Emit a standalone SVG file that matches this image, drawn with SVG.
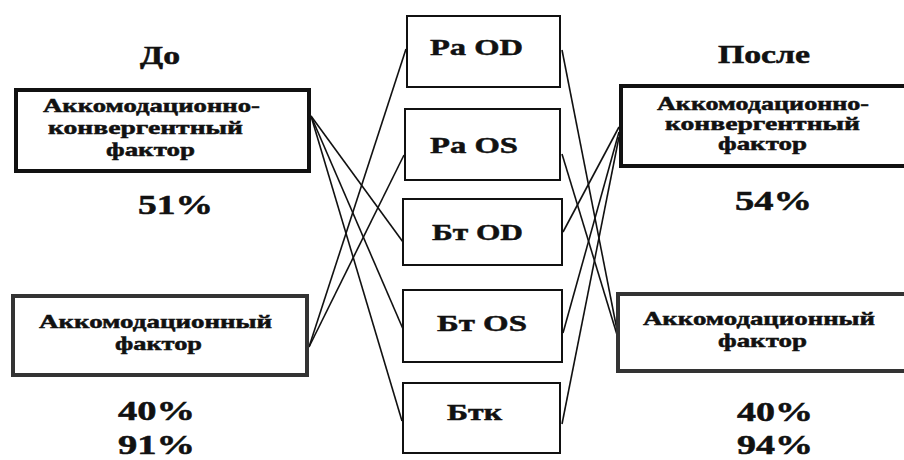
<svg xmlns="http://www.w3.org/2000/svg" width="904" height="460" viewBox="0 0 904 460">
  <style>
    .t { font-family: "Liberation Serif", "Times New Roman", serif; font-weight: 700; fill: #111; stroke: #111; stroke-width: 0.5; }
    .head { font-size: 25px; }
    .box-txt { font-size: 19px; }
    .mid-txt { font-size: 24px; }
    .pct { font-size: 27px; }
    .factor { fill: #fff; stroke: #111; stroke-width: 4; }
    .factor-gray { fill: #fff; stroke: #333; stroke-width: 4; }
    .param { fill: #fff; stroke: #111; stroke-width: 2; }
    .link { stroke: #111; stroke-width: 1.6; fill: none; }
  </style>
  <rect width="904" height="460" fill="#fff"/>

  <!-- connectors -->
  <g id="connectors">
    <line class="link" x1="311" y1="116" x2="403" y2="242"/>
    <line class="link" x1="311" y1="116" x2="403" y2="329"/>
    <line class="link" x1="311" y1="116" x2="402" y2="421"/>
    <line class="link" x1="309" y1="347" x2="406" y2="49"/>
    <line class="link" x1="309" y1="347" x2="404" y2="155"/>
    <line class="link" x1="562" y1="50" x2="618" y2="335"/>
    <line class="link" x1="562" y1="154" x2="618" y2="338"/>
    <line class="link" x1="563" y1="232" x2="619" y2="127"/>
    <line class="link" x1="563" y1="333" x2="619" y2="132"/>
    <line class="link" x1="562" y1="424" x2="619" y2="137"/>
  </g>

  <!-- column headings -->
  <text class="t head" x="140" y="64" textLength="40" lengthAdjust="spacingAndGlyphs">До</text>
  <text class="t head" x="718" y="63" textLength="92" lengthAdjust="spacingAndGlyphs">После</text>

  <!-- before: accommodative-convergent factor -->
  <g id="before-acc-conv">
    <rect class="factor" x="16" y="90" width="293" height="81"/>
    <text class="t box-txt" x="43" y="112" textLength="217" lengthAdjust="spacingAndGlyphs">Аккомодационно-</text>
    <text class="t box-txt" x="48" y="134" textLength="195" lengthAdjust="spacingAndGlyphs">конвергентный</text>
    <text class="t box-txt" x="106" y="156" textLength="89" lengthAdjust="spacingAndGlyphs">фактор</text>
    <text class="t pct" x="138" y="214" textLength="75" lengthAdjust="spacingAndGlyphs">51%</text>
  </g>

  <!-- before: accommodative factor -->
  <g id="before-acc">
    <rect class="factor-gray" x="13" y="296" width="294" height="79"/>
    <text class="t box-txt" x="39" y="328" textLength="233" lengthAdjust="spacingAndGlyphs">Аккомодационный</text>
    <text class="t box-txt" x="115" y="350" textLength="87" lengthAdjust="spacingAndGlyphs">фактор</text>
    <text class="t pct" x="118" y="420" textLength="77" lengthAdjust="spacingAndGlyphs">40%</text>
    <text class="t pct" x="118" y="454" textLength="77" lengthAdjust="spacingAndGlyphs">91%</text>
  </g>

  <!-- measured parameters -->
  <g id="ra-od">
    <rect class="param" x="407" y="16" width="153" height="71"/>
    <text class="t mid-txt" x="430" y="55" textLength="93" lengthAdjust="spacingAndGlyphs">Ра OD</text>
  </g>
  <g id="ra-os">
    <rect class="param" x="405" y="109" width="155" height="71"/>
    <text class="t mid-txt" x="430" y="153" textLength="88" lengthAdjust="spacingAndGlyphs">Ра OS</text>
  </g>
  <g id="bt-od">
    <rect class="param" x="403" y="199" width="159" height="66"/>
    <text class="t mid-txt" x="432" y="240" textLength="91" lengthAdjust="spacingAndGlyphs">Бт OD</text>
  </g>
  <g id="bt-os">
    <rect class="param" x="403" y="290" width="159" height="72"/>
    <text class="t mid-txt" x="437" y="331" textLength="90" lengthAdjust="spacingAndGlyphs">Бт OS</text>
  </g>
  <g id="btk">
    <rect class="param" x="403" y="383" width="157" height="70"/>
    <text class="t mid-txt" x="447" y="420" textLength="55" lengthAdjust="spacingAndGlyphs">Бтк</text>
  </g>

  <!-- after: accommodative-convergent factor -->
  <g id="after-acc-conv">
    <rect class="factor" x="621" y="86" width="292" height="80"/>
    <text class="t box-txt" x="657" y="110" textLength="212" lengthAdjust="spacingAndGlyphs">Аккомодационно-</text>
    <text class="t box-txt" x="665" y="130" textLength="195" lengthAdjust="spacingAndGlyphs">конвергентный</text>
    <text class="t box-txt" x="718" y="150" textLength="89" lengthAdjust="spacingAndGlyphs">фактор</text>
    <text class="t pct" x="735" y="210" textLength="77" lengthAdjust="spacingAndGlyphs">54%</text>
  </g>

  <!-- after: accommodative factor -->
  <g id="after-acc">
    <rect class="factor-gray" x="618" y="294" width="295" height="77"/>
    <text class="t box-txt" x="643" y="325" textLength="232" lengthAdjust="spacingAndGlyphs">Аккомодационный</text>
    <text class="t box-txt" x="718" y="347" textLength="89" lengthAdjust="spacingAndGlyphs">фактор</text>
    <text class="t pct" x="737" y="421" textLength="76" lengthAdjust="spacingAndGlyphs">40%</text>
    <text class="t pct" x="737" y="454" textLength="76" lengthAdjust="spacingAndGlyphs">94%</text>
  </g>
</svg>
